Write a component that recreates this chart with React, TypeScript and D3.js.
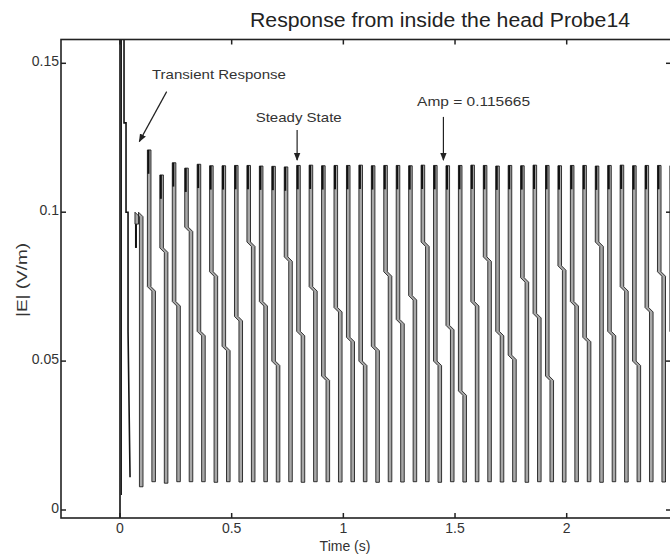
import React from 'react';
import * as d3 from 'd3';

const W = 670;
const H = 557;

// axes box (matlab style, box on, ticks inside)
const boxLeft = 61;
const boxRight = 671;
const boxTop = 39.5;
const boxBottom = 518;

const xTicks = [0, 0.5, 1, 1.5, 2, 2.5];
const xTickLabels = ['0', '0.5', '1', '1.5', '2', '2.5'];
const yTicks = [0, 0.05, 0.1, 0.15];
const yTickLabels = ['0', '0.05', '0.1', '0.15'];

// first spike at t = 0, outline
const transientT = [0, 0, 0.018, 0.018, 0.027, 0.027, 0.036, 0.036, 0.045];
const transientV = [-0.003, 0.162, 0.162, 0.13, 0.13, 0.1, 0.1, 0.06, 0.011];

// pulse train after the transient
const pulseStart = 0.067;
const pulsePeriod = 0.0557;
const pulsePeak = [
  0.096, 0.1209, 0.1125, 0.1166, 0.1148, 0.1161, 0.1156, 0.1156, 0.1157, 0.1157,
  0.1155, 0.1154, 0.1152, 0.1157, 0.1158, 0.1156, 0.1157, 0.1157, 0.1158, 0.1156,
  0.1157, 0.1157, 0.1156, 0.1158, 0.1157, 0.1156, 0.1157, 0.1158, 0.1157, 0.1155,
  0.1157, 0.1156, 0.1158, 0.1157, 0.1156, 0.1157, 0.1157, 0.1155, 0.1157, 0.1158,
  0.1156, 0.1157, 0.1157, 0.1156,
];
const pulseLow = [
  0.0078, 0.0095, 0.009, 0.0095, 0.0095, 0.0095, 0.0093, 0.0095, 0.0094, 0.0095,
  0.0095, 0.0094, 0.0095, 0.0093, 0.0095, 0.0095, 0.0094, 0.0095, 0.0095, 0.0093,
  0.0095, 0.0094, 0.0095, 0.0095, 0.0093, 0.0095, 0.0094, 0.0095, 0.0095, 0.0094,
  0.0095, 0.0093, 0.0095, 0.0095, 0.0094, 0.0095, 0.0095, 0.0093, 0.0095, 0.0094,
  0.0095, 0.0095, 0.0094, 0.0095,
];
// height where each stripe steps sideways
const pulseJog = [
  0.1, 0.075, 0.088, 0.07, 0.095, 0.06, 0.08, 0.055, 0.065, 0.09,
  0.07, 0.05, 0.085, 0.06, 0.075, 0.045, 0.068, 0.058, 0.05, 0.055,
  0.08, 0.064, 0.072, 0.09, 0.05, 0.062, 0.04, 0.07, 0.085, 0.06,
  0.052, 0.078, 0.066, 0.045, 0.082, 0.07, 0.058, 0.09, 0.06, 0.075,
  0.05, 0.068, 0.08, 0.06,
];

const annotations = [
  { text: 'Transient Response', t: 0.143, v: 0.1447, len: 134, anchor: 'start' },
  { text: 'Steady State', t: 0.8, v: 0.1303, len: 86, anchor: 'middle' },
  { text: 'Amp = 0.115665', t: 1.583, v: 0.1357, len: 113, anchor: 'middle' },
];
const arrows = [
  { t1: 0.209, v1: 0.1405, t2: 0.0864, v2: 0.1237 },
  { t1: 0.793, v1: 0.1276, t2: 0.793, v2: 0.1175 },
  { t1: 1.448, v1: 0.132, t2: 1.448, v2: 0.1175 },
];

const font = 'Arial, "Liberation Sans", Helvetica, sans-serif';
const ink = '#222';

export default function App() {
  const x = d3.scaleLinear().domain([0, 2]).range([120, 566.7]);
  const y = d3.scaleLinear().domain([0, 0.15]).range([510, 63.3]);

  const line = d3
    .line<[number, number]>()
    .x((d) => x(d[0]))
    .y((d) => y(d[1]));

  const transientPts = transientT.map((t, i) => [t, transientV[i]] as [number, number]);

  const w = 0.016; // stripe width
  const s = 0.02; // sideways step of the lower part
  const pulses = pulsePeak.map((hi, k) => {
    const t = pulseStart + k * pulsePeriod;
    const lo = pulseLow[k];
    const j = pulseJog[k];
    const pts: [number, number][] = [
      [t, hi],
      [t + w, hi],
      [t + w, j],
      [t + w + s, j - 0.0015],
      [t + w + s, lo],
      [t + s, lo],
      [t + s, j - 0.0015],
      [t, j],
    ];
    return { t, hi, d: line(pts) + 'Z' };
  });

  const xt = xTicks.filter((t) => x(t) > boxLeft && x(t) < boxRight);

  return (
    <svg
      width={W}
      height={H}
      style={{ position: 'absolute', left: 0, top: 0, background: '#fff' }}
    >
      <defs>
        <clipPath id="plotclip">
          <rect x={boxLeft} y={boxTop} width={boxRight - boxLeft} height={boxBottom - boxTop} />
        </clipPath>
        <marker id="ah" viewBox="0 0 10 10" refX="9" refY="5" markerWidth="7" markerHeight="7" orient="auto">
          <path d="M0,1 L10,5 L0,9 Z" fill={ink} />
        </marker>
      </defs>

      <text x={440} y={27} fontFamily={font} fontSize={20} fill={ink} textAnchor="middle"
        textLength={380} lengthAdjust="spacingAndGlyphs">
        Response from inside the head Probe14
      </text>

      <g clipPath="url(#plotclip)">
        {pulses.map((p, k) => (
          <g key={k}>
            <path d={p.d} fill="#a8a8a8" stroke="#151515" strokeWidth={0.85} />
            <rect x={x(p.t)} y={y(p.hi)} width={x(p.t + 0.009) - x(p.t)} height={y(p.hi - 0.008) - y(p.hi)} fill="#111" />
          </g>
        ))}
        <path d={line(transientPts) || ''} fill="none" stroke="#111" strokeWidth={1.6} />
        <path d={line([[0.006, 0.158], [0.006, 0.005]]) || ''} stroke="#111" strokeWidth={1.2} />
      </g>

      {/* box */}
      <rect x={boxLeft} y={boxTop} width={boxRight - boxLeft} height={boxBottom - boxTop}
        fill="none" stroke={ink} strokeWidth={1.6} />

      {xt.map((t, i) => (
        <g key={'xt' + i}>
          <line x1={x(t)} x2={x(t)} y1={boxBottom} y2={boxBottom - 5} stroke={ink} strokeWidth={1.5} />
          <line x1={x(t)} x2={x(t)} y1={boxTop} y2={boxTop + 5} stroke={ink} strokeWidth={1.5} />
          <text x={x(t)} y={533} fontFamily={font} fontSize={14} fill="#333" textAnchor="middle">
            {xTickLabels[xTicks.indexOf(t)]}
          </text>
        </g>
      ))}
      {yTicks.map((v, i) => (
        <g key={'yt' + i}>
          <line x1={boxLeft} x2={boxLeft + 5} y1={y(v)} y2={y(v)} stroke={ink} strokeWidth={1.5} />
          <line x1={boxRight} x2={boxRight - 5} y1={y(v)} y2={y(v)} stroke={ink} strokeWidth={1.5} />
          <text x={59} y={y(v) + 2.5} fontFamily={font} fontSize={14} fill="#333" textAnchor="end">
            {yTickLabels[i]}
          </text>
        </g>
      ))}

      <text x={345} y={551} fontFamily={font} fontSize={14} fill="#333" textAnchor="middle">
        Time (s)
      </text>
      <text transform="translate(27,280) rotate(-90)" fontFamily={font} fontSize={15} fill="#333"
        textAnchor="middle" textLength={74} lengthAdjust="spacingAndGlyphs">
        |E| (V/m)
      </text>

      {annotations.map((a, i) => (
        <text key={'an' + i} x={x(a.t)} y={y(a.v)} fontFamily={font} fontSize={13} fill="#333"
          textAnchor={a.anchor} textLength={a.len} lengthAdjust="spacingAndGlyphs">
          {a.text}
        </text>
      ))}
      {arrows.map((a, i) => (
        <line key={'ar' + i} x1={x(a.t1)} y1={y(a.v1)} x2={x(a.t2)} y2={y(a.v2)}
          stroke={ink} strokeWidth={1.2} markerEnd="url(#ah)" />
      ))}
    </svg>
  );
}
